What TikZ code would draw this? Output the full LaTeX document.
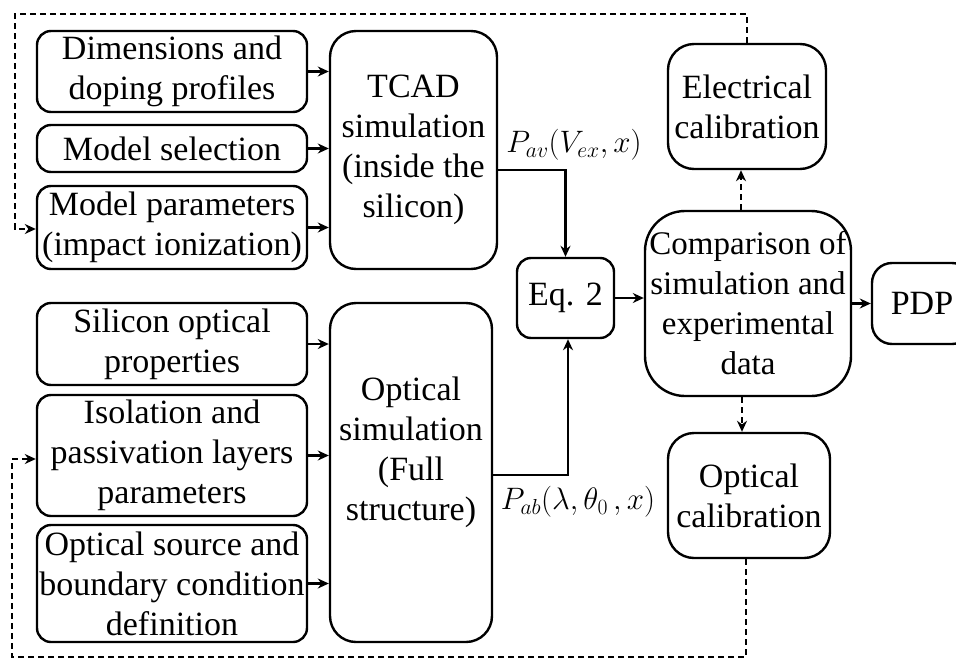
\RequirePackage{fix-cm}
\documentclass[tikz,border=0pt]{standalone}
\usepackage{fontspec}
\setmainfont{Liberation Serif}
\usetikzlibrary{arrows.meta}
\begin{document}
\begin{tikzpicture}[x=1pt,y=-1pt,
  box/.style={draw, line width=2.4pt, rounded corners=#1, align=center, inner sep=0pt,
     font=\fontsize{34}{40}\selectfont},
  box/.default=14pt,
  arr/.style={line width=2.4pt, -{Stealth[length=11pt,width=10pt]}},
  darr/.style={arr, dash pattern=on 6pt off 4pt},
  lab/.style={font=\fontsize{31}{36}\selectfont, inner sep=0pt}
]
\useasboundingbox (0,0) rectangle (956,659);
\begin{scope}
\clip (0,0) rectangle (956,659);
% left inputs
\node[box, minimum width=270pt, minimum height=81pt] (b1) at (172,71.5) {Dimensions and\\doping profiles};
\node[box, minimum width=270pt, minimum height=47pt] (b2) at (172,148.5) {Model selection};
\node[box, minimum width=270pt, minimum height=83pt] (b3) at (172,227.5) {Model parameters\\(impact ionization)};
\node[box, minimum width=270pt, minimum height=82pt] (b4) at (172,344) {Silicon optical\\properties};
\node[box, minimum width=270pt, minimum height=121pt] (b5) at (172,455.5) {Isolation and\\passivation layers\\parameters};
\node[box, minimum width=270pt, minimum height=117pt] (b6) at (172,583.5) {Optical source and\\boundary condition\\definition};
% simulations
\node[box=26pt, minimum width=167pt, minimum height=238pt] (tcad) at (413.5,150) {TCAD\\simulation\\(inside the\\silicon)};
\node[box=26pt, minimum width=162pt, minimum height=339pt] (osim) at (411,472.5) {};
\node[align=center, inner sep=0pt, font=\fontsize{34}{40}\selectfont] (osimtext) at (411,452) {Optical\\simulation\\(Full\\structure)};
% middle / right
\node[box, minimum width=97pt, minimum height=80pt] (eq2) at (565.5,298) {Eq. 2};
\node[box=40pt, minimum width=206pt, minimum height=185pt, font=\fontsize{33}{40}\selectfont] (comp) at (748,303.5) {Comparison of\\simulation and\\experimental\\data};
\node[box=26pt, minimum width=158pt, minimum height=125pt] (elec) at (747,106.5) {Electrical\\calibration};
\node[box=26pt, minimum width=162pt, minimum height=125pt] (ocal) at (749,495.5) {Optical\\calibration};
\node[box=20pt, minimum width=100pt, minimum height=81pt] (pdp) at (922,303.5) {PDP};
\end{scope}
% labels
\node[lab] (pav) at (574,145) {$P_{av}(V_{ex},x)$};
\node[lab] (pab) at (578,502) {$P_{ab}(\lambda,\theta_0\,,x)$};
% solid arrows
\foreach \s in {b1,b2,b3} \draw[arr] (\s.east) -- (\s.east -| tcad.west);
\foreach \s in {b4,b5,b6} \draw[arr] (\s.east) -- (\s.east -| osim.west);
\draw[arr] ([yshift=-20pt]tcad.east) -| (eq2.north);
\draw[arr] ([yshift=-2.5pt]osim.east) -| ([xshift=2.5pt]eq2.south);
\draw[arr] (eq2.east) -- (eq2.east -| comp.west);
\draw[arr] (comp.east) -- (comp.east -| pdp.west);
% dashed
\draw[darr] ([xshift=-7pt]comp.north) -- ([xshift=-7pt]comp.north |- elec.south);
\draw[darr] ([xshift=-6pt]comp.south) -- ([xshift=-6pt]comp.south |- ocal.north);
\coordinate (t1) at (747,14);
\coordinate (t2) at (15,14);
\draw[darr] (elec.north) -- (t1) -- (t2) |- ([yshift=-1.5pt]b3.west);
\coordinate (u1) at (746,657);
\coordinate (u2) at (12,657);
\draw[darr] ([xshift=-3pt]ocal.south) |- (u1) -- (u2) |- ([yshift=-3.5pt]b5.west);
\end{tikzpicture}
\end{document}
